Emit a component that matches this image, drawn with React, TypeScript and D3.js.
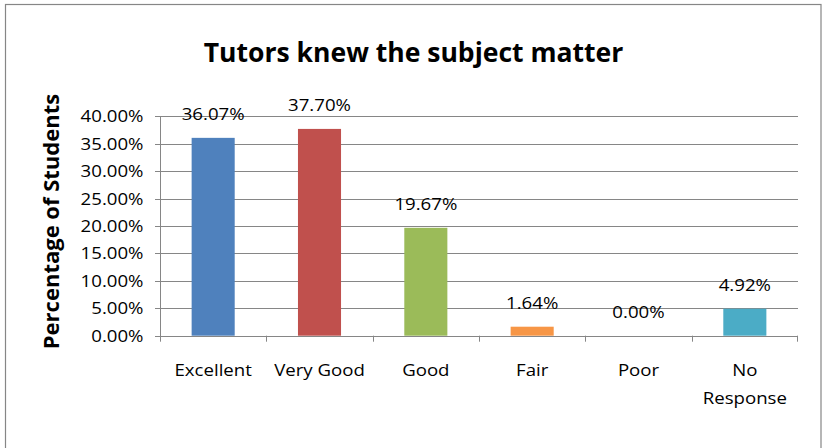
import React from "react";
import * as d3 from "d3";

const title = "Tutors knew the subject matter";
const yAxisTitle = "Percentage of Students";
const categories = ["Excellent", "Very Good", "Good", "Fair", "Poor", "No Response"];
const categoryLines = [["Excellent"], ["Very Good"], ["Good"], ["Fair"], ["Poor"], ["No", "Response"]];
const values = [0.3607, 0.377, 0.1967, 0.0164, 0.0, 0.0492];
const valueLabels = ["36.07%", "37.70%", "19.67%", "1.64%", "0.00%", "4.92%"];
const barColors = ["#4F81BD", "#C0504D", "#9BBB59", "#F79646", "#8064A2", "#4BACC6"];
const yTicks = [0, 0.05, 0.1, 0.15, 0.2, 0.25, 0.3, 0.35, 0.4];

const W = 823;
const H = 448;
const FONT = "'Open Sans', sans-serif";
const SX = 1.13;

function T(props: any) {
  const { x, y, anchor = "middle", size = 16.5, weight = 400, sx = SX, rotate = false, children } = props;
  return (
    <text
      transform={`translate(${x},${y})${rotate ? " rotate(-90)" : ""} scale(${sx},1)`}
      textAnchor={anchor}
      fontFamily={FONT}
      fontSize={size}
      fontWeight={weight}
      fill="#000"
    >
      {children}
    </text>
  );
}

export default function App() {
  const x = d3.scaleBand<string>().domain(categories).range([160, 798]).padding(0);
  const y = d3.scaleLinear().domain([0, 0.4]).range([335.7, 116.3]);
  const bw = x.bandwidth() * 0.405;
  const fmt = d3.format(".2%");

  return (
    <svg width={W} height={H} style={{ position: "absolute", left: 0, top: 0, background: "#fff" }}>
      <rect x={5.5} y={4.5} width={815.5} height={460} fill="#fff" stroke="#868686" strokeWidth={1.2} />
      <T x={413.5} y={61.5} size={27.5} weight={700} sx={0.965}>{title}</T>
      <T x={58.5} y={221.5} size={21.8} weight={700} sx={1.01} rotate>{yAxisTitle}</T>

      {yTicks.map((t) => (
        <g key={t}>
          <line x1={155} x2={798} y1={Math.round(y(t)) + 0.5} y2={Math.round(y(t)) + 0.5} stroke="#868686" strokeWidth={1} />
          <T x={143.5} y={y(t) + 6} anchor="end">{fmt(t)}</T>
        </g>
      ))}
      <line x1={160.5} x2={160.5} y1={y(0.4)} y2={y(0) + 5} stroke="#868686" />
      {categories.map((c, i) => (
        <line key={"tk" + c} x1={Math.round(x(c)!) + 0.5} x2={Math.round(x(c)!) + 0.5} y1={y(0)} y2={y(0) + 6} stroke="#868686" />
      ))}
      <line x1={797.5} x2={797.5} y1={y(0)} y2={y(0) + 6} stroke="#868686" />

      {categories.map((c, i) => {
        const cx = x(c)! + x.bandwidth() / 2;
        return (
          <g key={c}>
            <rect x={cx - bw / 2} y={y(values[i])} width={bw} height={y(0) - y(values[i])} fill={barColors[i]} />
            <T x={cx} y={y(values[i]) - 17.5}>{valueLabels[i]}</T>
            {categoryLines[i].map((l, j) => (
              <T key={l} x={cx} y={376 + j * 27.5}>{l}</T>
            ))}
          </g>
        );
      })}
    </svg>
  );
}
